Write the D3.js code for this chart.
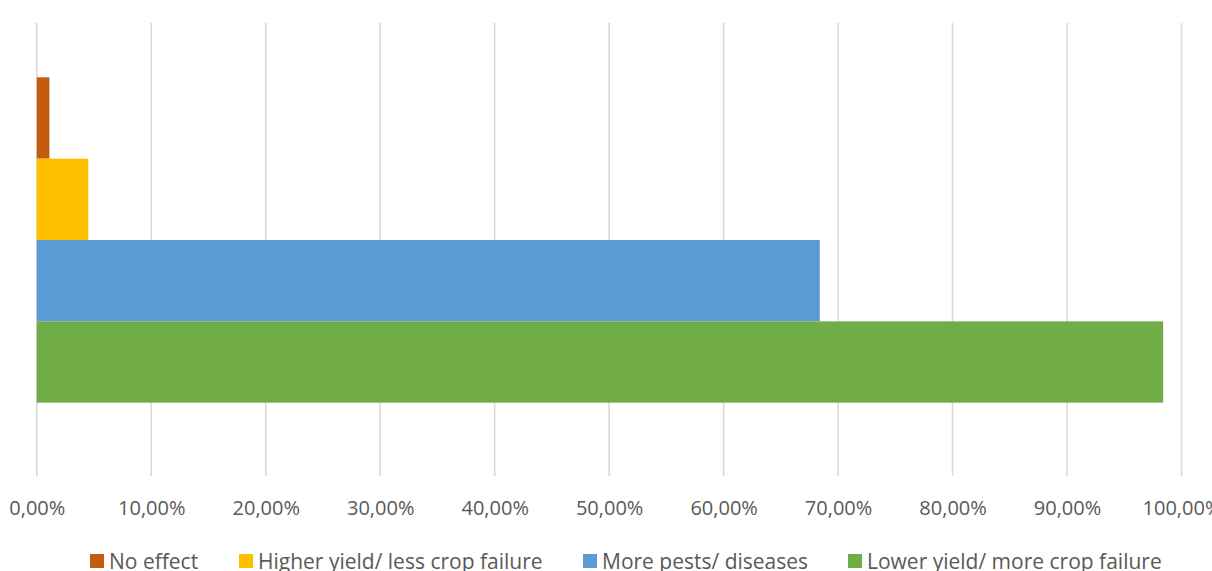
<!DOCTYPE html>
<html>
<head>
<meta charset="utf-8">
<script src="https://cdn.jsdelivr.net/npm/d3@7/dist/d3.min.js"></script>
<style>
  html, body { margin: 0; padding: 0; background: #fff; }
  svg { display: block; }
  text { font-family: "Open Sans", "Noto Sans", sans-serif; fill: #595959; }
</style>
</head>
<body>
<svg id="chart" width="1212" height="571"></svg>
<script>
// Share of answers per expected effect
const seriesNames = ["No effect", "Higher yield/ less crop failure", "More pests/ diseases", "Lower yield/ more crop failure"];
const seriesValues = [0.011, 0.045, 0.684, 0.984];
const seriesColors = ["#C55A11", "#FFC000", "#5B9BD5", "#70AD47"];
const tickValues = [0, 0.1, 0.2, 0.3, 0.4, 0.5, 0.6, 0.7, 0.8, 0.9, 1.0];

const svg = d3.select("#chart");

const plotTop = 23, plotBottom = 476;
const x = d3.scaleLinear().domain([0, 1]).range([36.8, 1181.5]);
const y = d3.scaleBand().domain(seriesNames).range([77.3, 402.7]).paddingInner(0);

const fmt = v => d3.format(".2f")(v * 100).replace(".", ",") + "%";

// vertical gridlines
svg.append("g")
  .selectAll("line")
  .data(tickValues)
  .join("line")
  .attr("x1", d => x(d)).attr("x2", d => x(d))
  .attr("y1", plotTop).attr("y2", plotBottom)
  .attr("stroke", "#D9D9D9")
  .attr("stroke-width", 1.6);

// bars
svg.append("g")
  .selectAll("rect")
  .data(seriesNames)
  .join("rect")
  .attr("x", x(0))
  .attr("y", d => y(d))
  .attr("width", (d, i) => x(seriesValues[i]) - x(0))
  .attr("height", y.bandwidth())
  .attr("fill", (d, i) => seriesColors[i]);

// x axis labels
const axis = d3.axisBottom(x).tickValues(tickValues).tickFormat(fmt).tickSize(0).tickPadding(0);
const ag = svg.append("g").attr("transform", `translate(0,${plotBottom})`).call(axis);
ag.select(".domain").remove();
ag.selectAll("text")
  .attr("y", 39)
  .attr("dy", null)
  .style("font-family", '"Open Sans", "Noto Sans", sans-serif')
  .style("font-size", "20px")
  .attr("fill", "#595959");

// legend
const legendX = [90, 239, 583, 848];
const lg = svg.append("g")
  .selectAll("g")
  .data(seriesNames)
  .join("g")
  .attr("transform", (d, i) => `translate(${legendX[i]},0)`);
lg.append("rect")
  .attr("x", 0).attr("y", 554)
  .attr("width", 14).attr("height", 14)
  .attr("fill", (d, i) => seriesColors[i]);
lg.append("text")
  .attr("x", 19).attr("y", 568.5)
  .style("font-size", "21px")
  .text(d => d);
</script>
</body>
</html>
